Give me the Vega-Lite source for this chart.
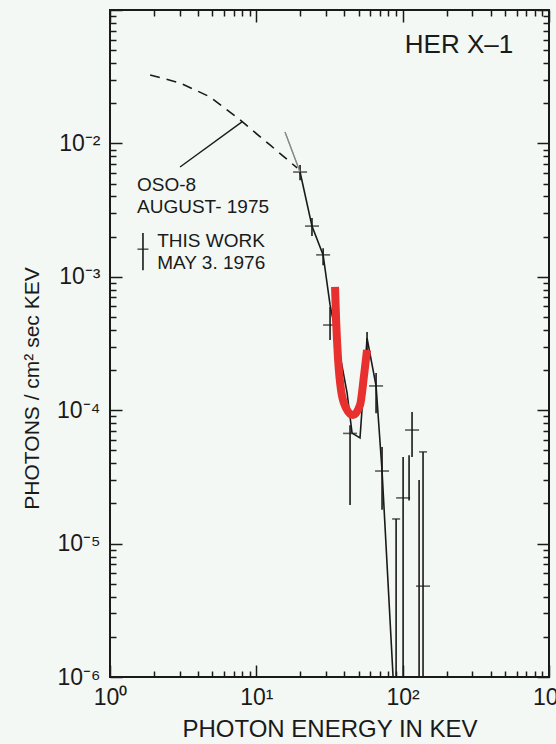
{
  "$schema": "https://vega.github.io/schema/vega-lite/v6.json",
  "width": 439,
  "height": 667,
  "autosize": {"type": "none"},
  "padding": {"left": 110, "top": 10, "right": 7, "bottom": 67},
  "background": "#f3f8f5",
  "config": {
    "view": {"stroke": "#1a1a1a", "strokeWidth": 2, "fill": "#f3f8f5"},
    "font": "Liberation Sans",
    "axis": {"grid": false, "domain": false, "tickColor": "#1a1a1a", "tickWidth": 1.5, "labelColor": "#1a1a1a", "titleColor": "#1a1a1a", "labelFont": "Liberation Sans", "titleFont": "Liberation Sans", "titleFontWeight": "normal", "labelOverlap": false, "labelFlush": false, "labelBound": false}
  },
  "datasets": {
    "oso": [
      {"E": 1.88, "F": 0.0326},
      {"E": 3.01, "F": 0.0284},
      {"E": 4.83, "F": 0.0223},
      {"E": 7.74, "F": 0.0150},
      {"E": 12.4, "F": 0.00973},
      {"E": 19.0, "F": 0.00655}
    ],
    "extrap": [
      {"E": 15.7, "F": 0.01216},
      {"E": 19.9, "F": 0.0061}
    ],
    "fit": [
      {"E": 19.9, "F": 0.0061},
      {"E": 24.0, "F": 0.0024},
      {"E": 28.6, "F": 0.00146},
      {"E": 31.9, "F": 0.000615},
      {"E": 36.2, "F": 0.000308},
      {"E": 41.7, "F": 0.000135},
      {"E": 45.1, "F": 0.0000674},
      {"E": 51.1, "F": 0.0000619},
      {"E": 57.1, "F": 0.000347},
      {"E": 65.8, "F": 0.000152},
      {"E": 72.3, "F": 0.000035},
      {"E": 86.0, "F": 0.000001}
    ],
    "red": [
      {"E": 34.5, "F": 0.00084},
      {"E": 35.1, "F": 0.00047},
      {"E": 36.2, "F": 0.00024},
      {"E": 37.9, "F": 0.000142},
      {"E": 41.0, "F": 0.000104},
      {"E": 45.8, "F": 0.000092},
      {"E": 51.1, "F": 0.000109},
      {"E": 54.5, "F": 0.000184},
      {"E": 57.1, "F": 0.000283}
    ],
    "errors": [
      {"E": 19.9, "F": 0.0053, "F2": 0.0069},
      {"E": 24.0, "F": 0.00202, "F2": 0.00276},
      {"E": 28.6, "F": 0.00122, "F2": 0.00164},
      {"E": 31.9, "F": 0.000336, "F2": 0.000594},
      {"E": 43.7, "F": 0.0000195, "F2": 0.000077},
      {"E": 57.1, "F": 0.00028, "F2": 0.000385},
      {"E": 65.8, "F": 0.000095, "F2": 0.00019},
      {"E": 72.3, "F": 0.0000179, "F2": 0.000053},
      {"E": 90.2, "F": 0.000001, "F2": 0.0000153},
      {"E": 100.7, "F": 0.000001, "F2": 0.0000445},
      {"E": 110.6, "F": 0.000021, "F2": 0.000046},
      {"E": 115.9, "F": 0.0000445, "F2": 0.000097},
      {"E": 129.5, "F": 0.000001, "F2": 0.00003},
      {"E": 137.8, "F": 0.000001, "F2": 0.0000487}
    ],
    "centers": [
      {"E": 19.9, "F": 0.0061},
      {"E": 24.0, "F": 0.0024},
      {"E": 28.6, "F": 0.00146},
      {"E": 31.9, "F": 0.000435},
      {"E": 43.7, "F": 0.000067},
      {"E": 65.8, "F": 0.000152},
      {"E": 72.3, "F": 0.000035},
      {"E": 100.7, "F": 0.000022},
      {"E": 115.9, "F": 0.000071},
      {"E": 137.8, "F": 0.0000048}
    ],
    "caps": [
      {"E": 90.2, "F": 0.0000153},
      {"E": 137.8, "F": 0.0000487}
    ],
    "leader": [
      {"E": 3.01, "F": 0.00665},
      {"E": 7.98, "F": 0.0145}
    ],
    "legendbar": [
      {"E": 1.68, "F": 0.00112, "F2": 0.00213}
    ],
    "legendtick": [
      {"E": 1.68, "F": 0.00161}
    ],
    "legendtext": [
      {"E": 1.53, "F": 0.00488, "label": "OSO-8"},
      {"E": 1.53, "F": 0.00333, "label": "AUGUST- 1975"},
      {"E": 2.10, "F": 0.00185, "label": "THIS WORK"},
      {"E": 2.10, "F": 0.00127, "label": "MAY 3. 1976"}
    ],
    "name": [
      {"E": 569, "F": 0.0547, "label": "HER X\u20131"}
    ]
  },
  "layer": [
    {
      "encoding": {
        "x": {
          "field": "E", "type": "quantitative",
          "scale": {"type": "log", "domain": [1, 1000], "nice": false},
          "axis": {
            "orient": "bottom",
            "values": [1,2,3,4,5,6,7,8,9,10,20,30,40,50,60,70,80,90,100,200,300,400,500,600,700,800,900,1000],
            "tickSize": {"condition": {"test": "indexof([1,10,100,1000], datum.value) >= 0", "value": -12}, "value": -6},
            "labelExpr": "datum.value == 1 ? '10\u2070' : datum.value == 10 ? '10\u00b9' : datum.value == 100 ? '10\u00b2' : datum.value == 1000 ? '10\u00b3' : ''",
            "labelFontSize": 23,
            "labelPadding": 21,
            "title": "PHOTON ENERGY IN KEV",
            "titleFontSize": 24,
            "titleY": 59,
            "titleBaseline": "alphabetic"
          }
        },
        "y": {
          "field": "F", "type": "quantitative",
          "scale": {"type": "log", "domain": [0.000001, 0.1], "nice": false},
          "axis": {
            "orient": "left",
            "values": [0.000001,0.000002,0.000003,0.000004,0.000005,0.000006,0.000007,0.000008,0.000009,0.00001,0.00002,0.00003,0.00004,0.00005,0.00006,0.00007,0.00008,0.00009,0.0001,0.0002,0.0003,0.0004,0.0005,0.0006,0.0007,0.0008,0.0009,0.001,0.002,0.003,0.004,0.005,0.006,0.007,0.008,0.009,0.01,0.02,0.03,0.04,0.05,0.06,0.07,0.08,0.09,0.1],
            "tickSize": {"condition": {"test": "indexof([0.000001,0.00001,0.0001,0.001,0.01,0.1], datum.value) >= 0", "value": -12}, "value": -6},
            "labelExpr": "datum.value == 0.000001 ? '10\u207b\u2076' : datum.value == 0.00001 ? '10\u207b\u2075' : datum.value == 0.0001 ? '10\u207b\u2074' : datum.value == 0.001 ? '10\u207b\u00b3' : datum.value == 0.01 ? '10\u207b\u00b2' : ''",
            "labelFontSize": 23,
            "labelPadding": 22,
            "labelBaseline": "middle",
            "title": "PHOTONS / cm\u00b2 sec KEV",
            "titleFontSize": 21,
            "titleX": -72,
            "titleY": 378,
            "titleAlign": "center",
            "titleBaseline": "alphabetic"
          }
        }
      },
      "layer": [
        {"data": {"name": "oso"}, "mark": {"type": "line", "color": "#1a1a1a", "strokeWidth": 1.6, "strokeDash": [10, 7]}},
        {"data": {"name": "extrap"}, "mark": {"type": "line", "color": "#8a8a8a", "strokeWidth": 1.2}},
        {"data": {"name": "fit"}, "mark": {"type": "line", "color": "#1a1a1a", "strokeWidth": 1.6}},
        {"data": {"name": "errors"}, "mark": {"type": "rule", "color": "#1a1a1a", "strokeWidth": 1.6}, "encoding": {"y2": {"field": "F2"}}},
        {"data": {"name": "centers"}, "mark": {"type": "tick", "orient": "horizontal", "color": "#1a1a1a", "size": 14, "thickness": 1.6}},
        {"data": {"name": "caps"}, "mark": {"type": "tick", "orient": "horizontal", "color": "#1a1a1a", "size": 8, "thickness": 1.6}},
        {"data": {"name": "red"}, "mark": {"type": "line", "color": "#e8312f", "strokeWidth": 8, "interpolate": "monotone", "strokeCap": "butt"}},
        {"data": {"name": "leader"}, "mark": {"type": "line", "color": "#1a1a1a", "strokeWidth": 1.4}},
        {"data": {"name": "legendbar"}, "mark": {"type": "rule", "color": "#1a1a1a", "strokeWidth": 1.6}, "encoding": {"y2": {"field": "F2"}}},
        {"data": {"name": "legendtick"}, "mark": {"type": "tick", "orient": "horizontal", "color": "#1a1a1a", "size": 11, "thickness": 1.6}},
        {"data": {"name": "legendtext"}, "mark": {"type": "text", "align": "left", "baseline": "middle", "fontSize": 19, "font": "Liberation Sans", "color": "#1a1a1a"}, "encoding": {"text": {"field": "label"}}},
        {"data": {"name": "name"}, "mark": {"type": "text", "align": "right", "baseline": "middle", "fontSize": 26, "font": "Liberation Sans", "color": "#1a1a1a"}, "encoding": {"text": {"field": "label"}}}
      ]
    },
    {
      "data": {"name": "extrap"},
      "mark": {"type": "line", "color": "#8a8a8a", "strokeWidth": 1.2},
      "encoding": {
        "x": {
          "field": "E", "type": "quantitative",
          "scale": {"type": "log", "domain": [1, 1000], "nice": false},
          "axis": {
            "orient": "top",
            "values": [1,2,3,4,5,6,7,8,9,10,20,30,40,50,60,70,80,90,100,200,300,400,500,600,700,800,900,1000],
            "tickSize": {"condition": {"test": "indexof([1,10,100,1000], datum.value) >= 0", "value": -12}, "value": -6},
            "labels": false,
            "title": null
          }
        },
        "y": {
          "field": "F", "type": "quantitative",
          "scale": {"type": "log", "domain": [0.000001, 0.1], "nice": false},
          "axis": {
            "orient": "right",
            "values": [0.000001,0.000002,0.000003,0.000004,0.000005,0.000006,0.000007,0.000008,0.000009,0.00001,0.00002,0.00003,0.00004,0.00005,0.00006,0.00007,0.00008,0.00009,0.0001,0.0002,0.0003,0.0004,0.0005,0.0006,0.0007,0.0008,0.0009,0.001,0.002,0.003,0.004,0.005,0.006,0.007,0.008,0.009,0.01,0.02,0.03,0.04,0.05,0.06,0.07,0.08,0.09,0.1],
            "tickSize": {"condition": {"test": "indexof([0.000001,0.00001,0.0001,0.001,0.01,0.1], datum.value) >= 0", "value": -12}, "value": -6},
            "labels": false,
            "title": null
          }
        }
      }
    }
  ],
  "resolve": {"axis": {"x": "independent", "y": "independent"}}
}
